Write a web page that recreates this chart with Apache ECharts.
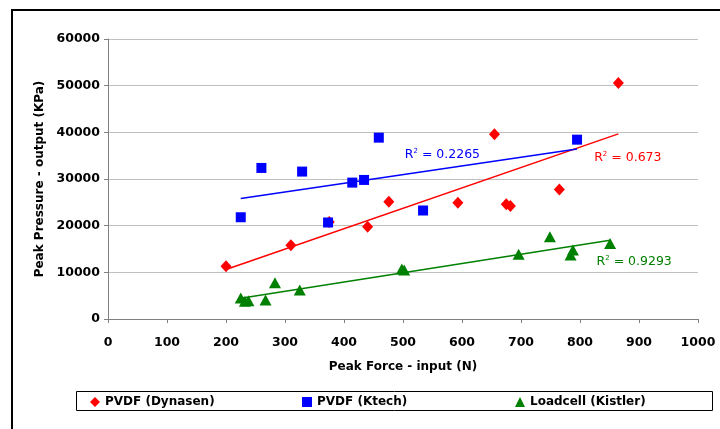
<!DOCTYPE html>
<html>
<head>
<meta charset="utf-8">
<script src="https://cdn.jsdelivr.net/npm/echarts@6/dist/echarts.min.js"></script>
<style>
  html, body { margin: 0; padding: 0; background: #fff; }
  #chart { width: 720px; height: 429px; }
</style>
</head>
<body>
<div id="chart"></div>
<script>
// Peak force (N) vs peak pressure (KPa)
var dynasenX = [200, 310, 375, 440, 476, 593, 655, 675, 682, 765, 865];
var dynasenY = [11300, 15800, 20800, 19750, 25100, 24900, 39570, 24600, 24240, 27740, 50550];

var ktechX = [225, 260, 329, 373, 414, 434, 459, 534, 795];
var ktechY = [21800, 32370, 31590, 20680, 29230, 29800, 38860, 23250, 38430];

var kistlerX = [225, 232, 238, 267, 283, 325, 498, 502, 696, 749, 784, 788, 851];
var kistlerY = [4500, 3800, 3900, 4060, 7770, 6200, 10700, 10480, 13900, 17600, 13700, 14760, 16200];

var seriesNames = ['PVDF (Dynasen)', 'PVDF (Ktech)', 'Loadcell (Kistler)'];
var r2Labels = ['0.673', '0.2265', '0.9293'];
// where the R² text sits, in data units
var r2Pos = [[824, 34650], [503, 35300], [828, 12200]];

var xTicks = [0, 1000, 100];
var yTicks = [0, 60000, 10000];

var colors = ['#ff0000', '#0000ff', '#008000'];
var symbols = ['diamond', 'rect', 'triangle'];
var symSizes = [[11, 12], 10, [12, 11]];

function zip(xs, ys) {
  var out = [];
  for (var i = 0; i < xs.length; i++) out.push([xs[i], ys[i]]);
  return out;
}

// least-squares line from min x to max x
function trend(xs, ys) {
  var n = xs.length, sx = 0, sy = 0;
  for (var i = 0; i < n; i++) { sx += xs[i]; sy += ys[i]; }
  var mx = sx / n, my = sy / n, sxy = 0, sxx = 0;
  for (var i = 0; i < n; i++) {
    sxy += (xs[i] - mx) * (ys[i] - my);
    sxx += (xs[i] - mx) * (xs[i] - mx);
  }
  var b = sxy / sxx, a = my - b * mx;
  var lo = Math.min.apply(null, xs), hi = Math.max.apply(null, xs);
  return [[lo, a + b * lo], [hi, a + b * hi]];
}

var sets = [[dynasenX, dynasenY], [ktechX, ktechY], [kistlerX, kistlerY]];
var series = [];
for (var i = 0; i < sets.length; i++) {
  series.push({
    type: 'line',
    data: trend(sets[i][0], sets[i][1]),
    showSymbol: false,
    silent: true,
    lineStyle: { color: colors[i], width: 1.5 },
    z: 2,
    markPoint: {
      symbol: 'circle',
      symbolSize: 0,
      silent: true,
      label: {
        show: true,
        position: 'right',
        distance: 0,
        formatter: '{a|R}{s|2}{a| = ' + r2Labels[i] + '}',
        rich: {
          a: { fontFamily: 'DejaVu Sans', fontSize: 12.5, color: colors[i] },
          s: { fontFamily: 'DejaVu Sans', fontSize: 7, color: colors[i], verticalAlign: 'top', padding: [0, 0, 7, 0] }
        }
      },
      data: [{ coord: r2Pos[i] }]
    }
  });
}
for (var i = 0; i < sets.length; i++) {
  series.push({
    name: seriesNames[i],
    type: 'scatter',
    data: zip(sets[i][0], sets[i][1]),
    symbol: symbols[i],
    symbolSize: symSizes[i],
    itemStyle: { color: colors[i], opacity: 1 },
    z: 3
  });
}

var legendLeft = [90, 302, 515];
var legends = [];
for (var i = 0; i < 3; i++) {
  legends.push({
    data: [{ name: seriesNames[i], icon: symbols[i] }],
    left: legendLeft[i],
    top: 396,
    itemWidth: 10,
    itemHeight: 10,
    itemGap: 0,
    padding: 0,
    selectedMode: false,
    textStyle: { fontFamily: 'DejaVu Sans', fontWeight: 'bold', fontSize: 12, color: '#000' }
  });
}

var axisFont = { fontFamily: 'DejaVu Sans', fontWeight: 'bold', fontSize: 12, color: '#000' };

var option = {
  animation: false,
  backgroundColor: '#fff',
  graphic: [
    { type: 'rect', shape: { x: 12, y: 10, width: 800, height: 600 }, style: { fill: null, stroke: '#000', lineWidth: 2 }, z: 0 },
    { type: 'rect', shape: { x: 76.5, y: 391.5, width: 636, height: 19 }, style: { fill: null, stroke: '#000', lineWidth: 1 }, z: 0 }
  ],
  legend: legends,
  grid: { left: 108, top: 39, right: 22, bottom: 110 },
  xAxis: {
    type: 'value',
    min: xTicks[0], max: xTicks[1], interval: xTicks[2],
    name: 'Peak Force - input (N)',
    nameLocation: 'middle',
    nameGap: 42,
    nameTextStyle: axisFont,
    axisLine: { lineStyle: { color: '#808080' } },
    axisTick: { show: true, length: 4, lineStyle: { color: '#808080' } },
    axisLabel: Object.assign({ margin: 17, fontSize: 12.5, formatter: function (v) { return String(v); } }, { fontFamily: 'DejaVu Sans', fontWeight: 'bold', color: '#000' }),
    splitLine: { show: false }
  },
  yAxis: {
    type: 'value',
    min: yTicks[0], max: yTicks[1], interval: yTicks[2],
    name: 'Peak Pressure - output (KPa)',
    nameLocation: 'middle',
    nameGap: 60,
    nameTextStyle: axisFont,
    axisLine: { show: true, lineStyle: { color: '#808080' } },
    axisTick: { show: true, length: 4, lineStyle: { color: '#808080' } },
    axisLabel: Object.assign({ margin: 8, fontSize: 12.5, formatter: function (v) { return String(v); } }, { fontFamily: 'DejaVu Sans', fontWeight: 'bold', color: '#000' }),
    splitLine: { show: true, lineStyle: { color: '#c0c0c0' } }
  },
  series: series
};

var chart = echarts.init(document.getElementById('chart'));
chart.setOption(option);
</script>
</body>
</html>
